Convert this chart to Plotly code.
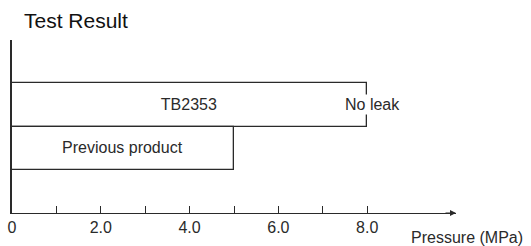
import plotly.graph_objects as go

categories = ["Previous product", "TB2353"]
pressures = [5.0, 8.0]
bar_pos = [1.5, 2.5]
tick_vals = [0, 1, 2, 3, 4, 5, 6, 7, 8]
tick_text = ["0", "", "2.0", "", "4.0", "", "6.0", "", "8.0"]
result_text = "No leak"

ink = "#2a2a2a"
font_family = "Liberation Sans, Arial, sans-serif"

fig = go.Figure()
fig.add_trace(go.Bar(
    x=pressures, y=bar_pos, orientation="h", width=1,
    marker=dict(color="rgba(255,255,255,0)", line=dict(color=ink, width=1.3)),
    text=categories, textposition="inside", insidetextanchor="middle",
    textangle=0, textfont=dict(size=16, color=ink, family=font_family),
    hoverinfo="skip",
))

fig.add_annotation(x=pressures[1], y=bar_pos[1], xref="x", yref="y",
                   text=result_text, showarrow=False, bgcolor="white",
                   xanchor="center", xshift=5,
                   font=dict(size=16, color=ink, family=font_family))
# axis arrow
fig.add_annotation(x=10, y=0, xref="x", yref="paper", ax=-12, ay=0,
                   axref="pixel", ayref="pixel", text="", showarrow=True,
                   arrowhead=2, arrowsize=1, arrowwidth=1.2, arrowcolor=ink)
fig.add_annotation(x=(467-12)/444, y=(213-237)/173, xref="paper", yref="paper",
                   text="Pressure (MPa)", showarrow=False,
                   xanchor="center", yanchor="middle",
                   font=dict(size=16, color=ink, family=font_family))

fig.update_layout(
    width=531, height=246,
    margin=dict(l=12, r=75, t=40, b=33),
    paper_bgcolor="white", plot_bgcolor="white",
    showlegend=False,
    title=dict(text="Test Result", x=24/531, xanchor="left", xref="container",
               y=1-21/246, yanchor="middle", yref="container",
               font=dict(size=21, color="#111", family=font_family)),
    bargap=0,
)
fig.update_xaxes(range=[0, 10], showgrid=False, zeroline=False, automargin=False,
                 showline=True, linecolor=ink, linewidth=1.3,
                 tickmode="array", tickvals=tick_vals, ticktext=tick_text,
                 ticks="inside", ticklen=7, tickcolor=ink, tickwidth=1.2,
                 tickfont=dict(size=16, color=ink, family=font_family))
fig.update_yaxes(range=[0, 4], showgrid=False, zeroline=False, automargin=False,
                 showline=True, linecolor=ink, linewidth=1.5,
                 showticklabels=False, ticks="")

fig.write_html("out.html", config={"displayModeBar": False},
               post_script="document.body.style.margin='0';document.body.style.overflow='hidden';")
